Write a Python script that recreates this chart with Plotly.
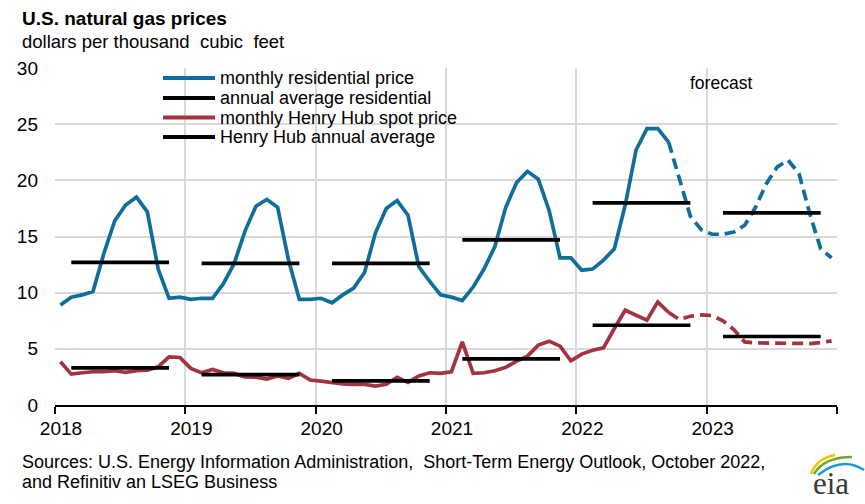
import plotly.graph_objects as go

# ---------------- data ----------------
years = [2018, 2019, 2020, 2021, 2022, 2023]
tick_labels = ["2018", "2019", "2020", "2021", "2022", "2023"]

residential_monthly = [
    8.9, 9.6, 9.8, 10.1, 13.5, 16.4, 17.8, 18.5, 17.2, 12.1, 9.5, 9.6,      # 2018
    9.4, 9.5, 9.5, 10.8, 12.6, 15.5, 17.7, 18.3, 17.6, 12.9, 9.4, 9.4,      # 2019
    9.5, 9.1, 9.8, 10.4, 11.8, 15.3, 17.5, 18.2, 16.9, 12.3, 11.0, 9.8,     # 2020
    9.6, 9.3, 10.5, 12.1, 14.1, 17.6, 19.8, 20.8, 20.1, 17.3, 13.1, 13.1,   # 2021
    12.0, 12.1, 12.9, 13.9, 17.8, 22.7, 24.6, 24.6, 23.4, 20.2, 16.8, 15.6, # 2022
    15.2, 15.2, 15.4, 16.0, 17.6, 19.7, 21.2, 21.8, 20.6, 17.0, 13.9, 13.1, # 2023
]
henry_hub_monthly = [
    3.85, 2.75, 2.87, 2.96, 2.96, 3.05, 2.90, 3.05, 3.11, 3.40, 4.29, 4.23,  # 2018
    3.26, 2.87, 3.17, 2.87, 2.81, 2.51, 2.48, 2.31, 2.58, 2.37, 2.81, 2.22,  # 2019
    2.13, 1.98, 1.87, 1.84, 1.84, 1.69, 1.84, 2.46, 2.01, 2.58, 2.87, 2.81,  # 2020
    2.96, 5.62, 2.81, 2.87, 3.05, 3.35, 3.91, 4.35, 5.33, 5.68, 5.24, 3.94,  # 2021
    4.53, 4.88, 5.09, 6.81, 8.44, 7.99, 7.55, 9.18, 8.23, 7.61, 7.90, 8.02,  # 2022
    7.96, 7.49, 6.72, 5.62, 5.53, 5.53, 5.53, 5.53, 5.50, 5.47, 5.56, 5.71,  # 2023
]
residential_annual = [12.7, 12.6, 12.6, 14.7, 18.0, 17.1]
henry_hub_annual = [3.3, 2.7, 2.15, 4.1, 7.1, 6.1]

legend_labels = ["monthly residential price", "annual average residential",
                 "monthly Henry Hub spot price", "Henry Hub annual average"]

last_history_index = 56   # Sep 2022 (history ends, forecast begins)

# ---------------- helpers ----------------
month_x = [y + (m + 0.5) / 12 for y in years for m in range(12)]

def annual_segments(values):
    xs, ys = [], []
    for y, v in zip(years, values):
        xs += [y + 1.5 / 12, y + 10.5 / 12, None]
        ys += [v, v, None]
    return xs, ys

BLUE = "#0f6e9b"
RED = "#a33340"
BLACK = "#000000"
FONT = "Liberation Sans, Arial, sans-serif"
LW = 3.7
DASH = "11px,6px"

L, R, T, B = 55, 837, 68, 405
W, H = 865, 504

def px(x):
    return (x - L) / (R - L)

def py(y):
    return (B - y) / (B - T)

fig = go.Figure()

h = last_history_index
fig.add_trace(go.Scatter(x=month_x[:h + 1], y=residential_monthly[:h + 1], mode="lines",
                         line=dict(color=BLUE, width=LW), name=legend_labels[0]))
fig.add_trace(go.Scatter(x=month_x[h:], y=residential_monthly[h:], mode="lines",
                         line=dict(color=BLUE, width=LW, dash=DASH), name="residential forecast"))
fig.add_trace(go.Scatter(x=month_x[:h + 1], y=henry_hub_monthly[:h + 1], mode="lines",
                         line=dict(color=RED, width=LW), name=legend_labels[2]))
fig.add_trace(go.Scatter(x=month_x[h:], y=henry_hub_monthly[h:], mode="lines",
                         line=dict(color=RED, width=LW, dash=DASH), name="Henry Hub forecast"))
ax, ay = annual_segments(residential_annual)
fig.add_trace(go.Scatter(x=ax, y=ay, mode="lines", line=dict(color=BLACK, width=LW),
                         name=legend_labels[1], connectgaps=False))
hx, hy = annual_segments(henry_hub_annual)
fig.add_trace(go.Scatter(x=hx, y=hy, mode="lines", line=dict(color=BLACK, width=LW),
                         name=legend_labels[3], connectgaps=False))

def txt(text, x, y, size, xanchor="left", yanchor="middle", family=FONT, color="#000"):
    return dict(text=text, x=px(x), y=py(y), xref="paper", yref="paper",
                xanchor=xanchor, yanchor=yanchor, showarrow=False,
                font=dict(size=size, color=color, family=family))

annotations = [
    txt("<b>U.S. natural gas prices</b>", 20, 19, 19),
    txt("dollars per thousand  cubic  feet", 20, 41, 18.5),
    txt("forecast", 688, 83, 17.5),
    txt("Sources: U.S. Energy Information Administration,  Short-Term Energy Outlook, October 2022,", 20, 462, 18),
    txt("and Refinitiv an LSEG Business", 20, 482, 18),
    txt("eia", 831, 503, 31, xanchor="center", yanchor="bottom",
        family="Liberation Serif, DejaVu Serif, serif", color="#3a3a3a"),
]

# manual legend (tight rows as in the original)
legend_colors = [BLUE, BLACK, RED, BLACK]
legend_rows = [78, 98, 117.5, 137]
shapes = []
for lab, col, ry in zip(legend_labels, legend_colors, legend_rows):
    shapes.append(dict(type="line", xref="paper", yref="paper", x0=px(163), x1=px(215),
                       y0=py(ry), y1=py(ry), line=dict(color=col, width=4)))
    annotations.append(txt(lab, 218, ry, 18))

def qpath(p0, c, p1):
    return "M {} {} Q {} {} {} {}".format(px(p0[0]), py(p0[1]), px(c[0]), py(c[1]), px(p1[0]), py(p1[1]))

shapes += [
    dict(type="path", xref="paper", yref="paper", path=qpath((811, 474), (816, 459), (835, 455)),
         line=dict(color="#f2c500", width=2.5)),
    dict(type="path", xref="paper", yref="paper", path=qpath((814, 474), (824, 457), (852, 457)),
         line=dict(color="#6aaa2a", width=2.5)),
    dict(type="path", xref="paper", yref="paper", path=qpath((818, 475), (842, 456), (864, 470)),
         line=dict(color="#1d9ad6", width=2.5)),
]

fig.update_layout(
    width=W, height=H,
    margin=dict(l=L, r=W - R, t=T, b=H - B, pad=0),
    plot_bgcolor="white", paper_bgcolor="white",
    font=dict(family=FONT, size=18, color="#000"),
    showlegend=False,
    annotations=annotations,
    shapes=shapes,
)

fig.update_xaxes(range=[2018, 2024], tickvals=years + [2024], ticktext=tick_labels + [""],
                 showgrid=True, gridcolor="#d9d9d9", gridwidth=1.5,
                 showline=True, linecolor="#000", linewidth=2,
                 ticks="outside", ticklen=7, tickwidth=2, tickcolor="#000",
                 tickfont=dict(size=19, family=FONT), ticklabelstandoff=-2, ticklabelshift=6,
                 zeroline=False, fixedrange=True)
fig.update_yaxes(range=[0, 30], tickvals=[0, 5, 10, 15, 20, 25, 30],
                 showgrid=True, gridcolor="#d9d9d9", gridwidth=1.5,
                 showline=False, ticks="", ticklabelstandoff=16,
                 tickfont=dict(size=19, family=FONT), zeroline=False, fixedrange=True)

fig.write_html("out.html", config={"displayModeBar": False},
               post_script="document.body.style.margin='0px';document.body.style.overflow='hidden';")
